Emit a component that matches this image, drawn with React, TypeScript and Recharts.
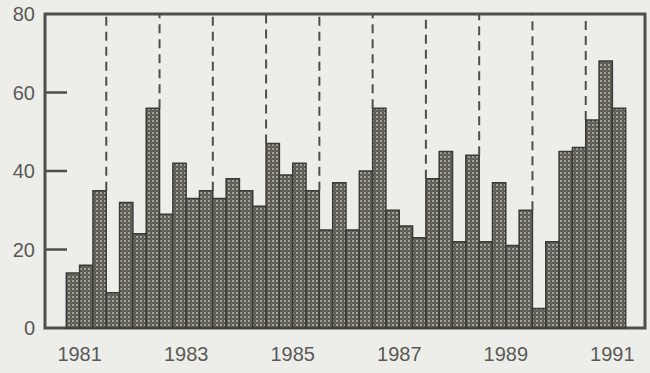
import { BarChart, Bar, XAxis, YAxis, ReferenceLine, ReferenceArea } from "recharts";

// quarterly values, 1981 Q1 .. 1991 Q4 (first and last quarter have no bar)
const years = [1981, 1982, 1983, 1984, 1985, 1986, 1987, 1988, 1989, 1990, 1991];
const values: (number | null)[] = [
  null, 14, 16, 35,
  9, 32, 24, 56,
  29, 42, 33, 35,
  33, 38, 35, 31,
  47, 39, 42, 35,
  25, 37, 25, 40,
  56, 30, 26, 23,
  38, 45, 22, 44,
  22, 37, 21, 30,
  5, 22, 45, 46,
  53, 68, 56, null,
];
const labelYears = [1981, 1983, 1985, 1987, 1989, 1991];
const yTicks = [0, 20, 40, 60, 80];

const xDomain: [number, number] = [-0.6, 44.45];
const ink = "#4f4f4a";
const font = "'Liberation Sans', Arial, sans-serif";

const data = values.map((v, i) => ({ x: i + 0.5, value: v }));

// dashed separators at the start of each year after the first
const separators = years.slice(1).map((yr) => {
  const b = (yr - years[0]) * 4;
  const low = Math.max(values[b - 1] ?? 0, values[b] ?? 0);
  return { pos: b, low };
});

const LeftTick = (props: any) => {
  const { x, y, payload } = props;
  const v = payload.value;
  return (
    <g>
      {v > 0 && v < 80 && <line x1={x} x2={x + 22} y1={y} y2={y} stroke={ink} strokeWidth={2.5} />}
      <text x={x - 10} y={y} dy={7} textAnchor="end" fontSize={20} fontFamily={font} fill="#5a5a55">
        {v}
      </text>
    </g>
  );
};

const RightTick = (props: any) => {
  const { x, y, payload } = props;
  const v = payload.value;
  if (!(v > 0 && v < 80)) return <g />;
  return <line x1={x - 20} x2={x} y1={y} y2={y} stroke={ink} strokeWidth={2.5} />;
};

export default function App() {
  return (
    <div style={{ position: "absolute", left: 0, top: 0, width: 650, height: 373, background: "#ededea" }}>
      <BarChart width={650} height={373} data={data} margin={{ top: 14, right: 4, left: 0, bottom: 15 }}>
        <defs>
          <pattern id="dots" width="4" height="4" patternUnits="userSpaceOnUse">
            <rect width="4" height="4" fill="#5c5c55" />
            <circle cx="1" cy="1" r="0.9" fill="#c4c4bb" />
            <circle cx="3" cy="3" r="0.6" fill="#8a8a82" />
          </pattern>
        </defs>
        <XAxis
          type="number"
          dataKey="x"
          domain={xDomain}
          ticks={labelYears.map((yr) => (yr - years[0]) * 4 + 2)}
          tickFormatter={(t: number) => String(years[0] + Math.floor(t / 4))}
          tickLine={false}
          axisLine={false}
          tickSize={0}
          tickMargin={19}
          height={30}
          tick={{ fill: "#5a5a55", fontSize: 20, fontFamily: font }}
        />
        <YAxis
          domain={[0, 80]}
          ticks={yTicks}
          width={45}
          tickLine={false}
          axisLine={false}
          tickSize={0}
          tickMargin={0}
          tick={<LeftTick />}
        />
        <YAxis
          yAxisId="r"
          orientation="right"
          domain={[0, 80]}
          ticks={yTicks}
          width={1}
          tickLine={false}
          axisLine={false}
          tickSize={0}
          tickMargin={0}
          tick={<RightTick />}
        />
        <Bar dataKey="value" barSize={13.3} fill="url(#dots)" stroke="#3a3a36" strokeWidth={1.5} isAnimationActive={false} />
        {separators.map((s) => (
          <ReferenceLine
            key={s.pos}
            segment={[{ x: s.pos, y: s.low }, { x: s.pos, y: 80 }]}
            stroke={ink}
            strokeWidth={2}
            strokeDasharray="9 6"
          />
        ))}
        <ReferenceArea
          x1={xDomain[0]}
          x2={xDomain[1]}
          y1={0}
          y2={80}
          fill="none"
          fillOpacity={0}
          stroke={ink}
          strokeWidth={3}
        />
      </BarChart>
    </div>
  );
}
